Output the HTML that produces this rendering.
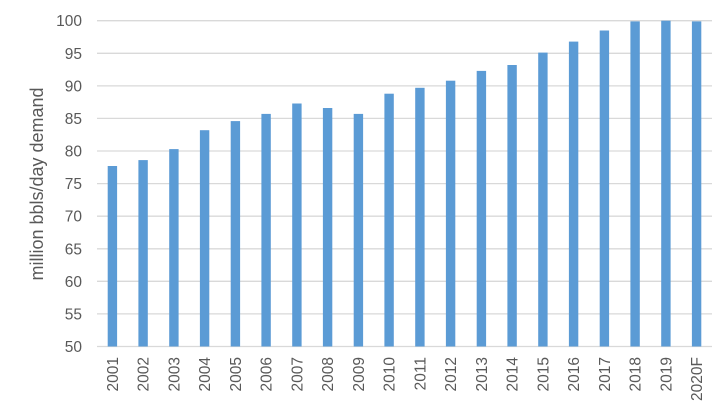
<!DOCTYPE html><html><head><style>body{margin:0;background:#fff}</style></head><body>
<svg width="727" height="414" xmlns="http://www.w3.org/2000/svg" font-family="Liberation Sans, sans-serif">
<g stroke="#d9d9d9" stroke-width="1.3">
<line x1="97" x2="712" y1="346.5" y2="346.5"/><line x1="97" x2="712" y1="313.9" y2="313.9"/><line x1="97" x2="712" y1="281.3" y2="281.3"/><line x1="97" x2="712" y1="248.8" y2="248.8"/><line x1="97" x2="712" y1="216.2" y2="216.2"/><line x1="97" x2="712" y1="183.6" y2="183.6"/><line x1="97" x2="712" y1="151" y2="151"/><line x1="97" x2="712" y1="118.4" y2="118.4"/><line x1="97" x2="712" y1="85.9" y2="85.9"/><line x1="97" x2="712" y1="53.3" y2="53.3"/><line x1="97" x2="712" y1="20.7" y2="20.7"/>
</g>
<g font-size="15.5" fill="#595959" text-anchor="end">
<text x="82" y="352">50</text><text x="82" y="319.4">55</text><text x="82" y="286.8">60</text><text x="82" y="254.3">65</text><text x="82" y="221.7">70</text><text x="82" y="189.1">75</text><text x="82" y="156.5">80</text><text x="82" y="123.9">85</text><text x="82" y="91.4">90</text><text x="82" y="58.8">95</text><text x="82" y="26.2">100</text>
</g>
<g fill="#5b9bd5">
<rect x="107.7" y="166.0" width="9.4" height="180.5"/>
<rect x="138.4" y="160.1" width="9.4" height="186.4"/>
<rect x="169.2" y="149.1" width="9.4" height="197.4"/>
<rect x="199.9" y="130.2" width="9.4" height="216.3"/>
<rect x="230.7" y="121.1" width="9.4" height="225.4"/>
<rect x="261.4" y="113.9" width="9.4" height="232.6"/>
<rect x="292.2" y="103.5" width="9.4" height="243.0"/>
<rect x="322.9" y="108.0" width="9.4" height="238.5"/>
<rect x="353.7" y="113.9" width="9.4" height="232.6"/>
<rect x="384.4" y="93.7" width="9.4" height="252.8"/>
<rect x="415.2" y="87.8" width="9.4" height="258.7"/>
<rect x="445.9" y="80.7" width="9.4" height="265.8"/>
<rect x="476.7" y="70.9" width="9.4" height="275.6"/>
<rect x="507.4" y="65.0" width="9.4" height="281.5"/>
<rect x="538.2" y="52.6" width="9.4" height="293.9"/>
<rect x="568.9" y="41.6" width="9.4" height="304.9"/>
<rect x="599.7" y="30.5" width="9.4" height="316.0"/>
<rect x="630.4" y="21.4" width="9.4" height="325.1"/>
<rect x="661.2" y="20.7" width="9.4" height="325.8"/>
<rect x="691.9" y="21.4" width="9.4" height="325.1"/>
</g>
<g font-size="15.5" fill="#595959" text-anchor="end">
<text transform="translate(118,357) rotate(-90)">2001</text>
<text transform="translate(148.7,357) rotate(-90)">2002</text>
<text transform="translate(179.5,357) rotate(-90)">2003</text>
<text transform="translate(210.2,357) rotate(-90)">2004</text>
<text transform="translate(241,357) rotate(-90)">2005</text>
<text transform="translate(271.7,357) rotate(-90)">2006</text>
<text transform="translate(302.5,357) rotate(-90)">2007</text>
<text transform="translate(333.2,357) rotate(-90)">2008</text>
<text transform="translate(364,357) rotate(-90)">2009</text>
<text transform="translate(394.7,357) rotate(-90)">2010</text>
<text transform="translate(425.5,357) rotate(-90)">2011</text>
<text transform="translate(456.2,357) rotate(-90)">2012</text>
<text transform="translate(487,357) rotate(-90)">2013</text>
<text transform="translate(517.7,357) rotate(-90)">2014</text>
<text transform="translate(548.5,357) rotate(-90)">2015</text>
<text transform="translate(579.2,357) rotate(-90)">2016</text>
<text transform="translate(610,357) rotate(-90)">2017</text>
<text transform="translate(640.7,357) rotate(-90)">2018</text>
<text transform="translate(671.5,357) rotate(-90)">2019</text>
<text transform="translate(702.2,357) rotate(-90)">2020F</text>
</g>
<text transform="translate(43,184) rotate(-90)" text-anchor="middle" font-size="18" fill="#595959">million bbls/day demand</text>
</svg></body></html>
